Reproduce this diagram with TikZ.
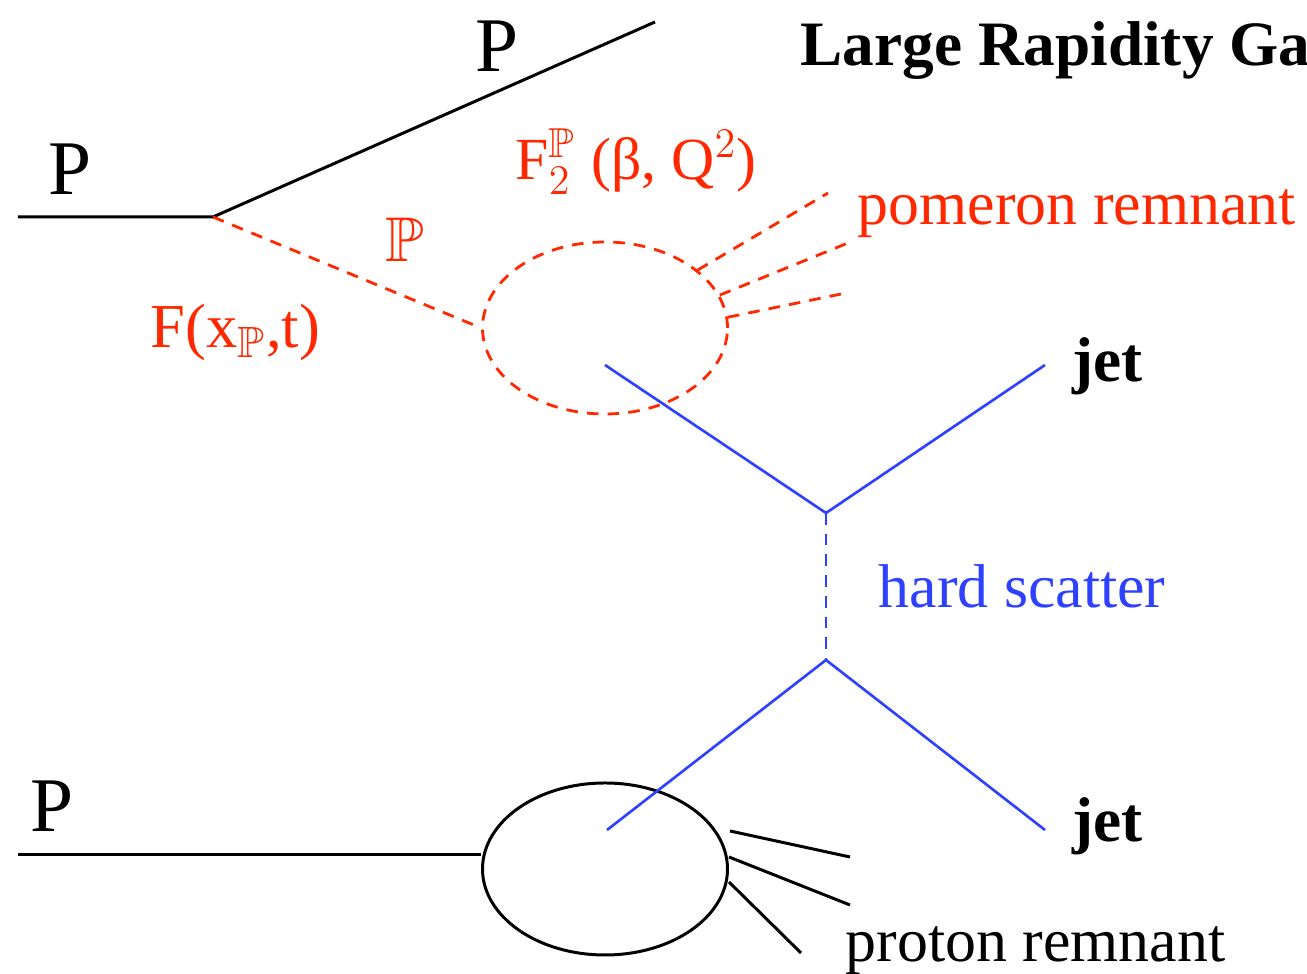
\documentclass[tikz,border=0pt]{standalone}
\usepackage{amssymb}
\usepackage{fontspec}
\setmainfont{Liberation Serif}
\usetikzlibrary{shapes.geometric}
\definecolor{pomred}{RGB}{255,40,0}
\definecolor{hardblue}{RGB}{45,65,255}
\tikzset{
  prot/.style   = {line width=0.85pt, black},
  pom/.style    = {line width=0.8pt, pomred, dash pattern=on 3.3pt off 2.6pt},
  hard/.style   = {line width=0.75pt, hardblue},
  hard dash/.style = {hard, dash pattern=on 3.3pt off 2.6pt},
  blob/.style   = {ellipse, draw, inner sep=0pt,
                   minimum width=24.5mm, minimum height=17.2mm},
  lbl/.style    = {inner sep=0pt, anchor=base west},
  plbl/.style   = {lbl, font=\fontsize{22}{26}\selectfont},
  bold lbl/.style = {lbl, font=\fontsize{18}{22}\selectfont\bfseries},
  red lbl/.style  = {lbl, text=pomred, font=\fontsize{17.6}{21}\selectfont},
  blue lbl/.style = {lbl, text=hardblue, font=\fontsize{17.6}{21}\selectfont},
}

\begin{document}
\begin{tikzpicture}[x=1cm, y=1cm]
    \useasboundingbox (0,0) rectangle (13.07,-9.74);

    % diffractive proton
    \coordinate (pin)  at (0.18,-2.17);
    \coordinate (vtx)  at (2.13,-2.17);
    \coordinate (pout) at (6.55,-0.22);
    \draw[prot] (pin) -- (vtx) -- (pout);

    % pomeron and its remnant
    \node[blob, pom] (pomblob) at (6.05,-3.28) {};
    \draw[pom] (vtx) -- (pomblob.west);
    \coordinate (pr1) at (8.28,-1.93);
    \coordinate (pr2) at (8.48,-2.43);
    \coordinate (pr3) at (8.46,-2.93);
    \draw[pom] (pomblob.32) -- (pr1);
    \draw[pom] (pomblob.16) -- (pr2);
    \draw[pom] (pomblob.5)  -- (pr3);

    % dissociating proton
    \node[blob, prot] (pblob) at (6.05,-8.69) {};
    \coordinate (pbin) at (0.18,-8.55);
    \draw[prot] (pbin) -- (pbin -| pblob.west);
    \coordinate (rs1) at (7.30,-8.31);
    \coordinate (rs2) at (7.29,-8.57);
    \coordinate (rs3) at (7.29,-8.82);
    \coordinate (re1) at (8.50,-8.57);
    \coordinate (re2) at (8.50,-9.05);
    \coordinate (re3) at (8.01,-9.53);
    \draw[prot] (rs1) -- (re1);
    \draw[prot] (rs2) -- (re2);
    \draw[prot] (rs3) -- (re3);

    % hard scatter
    \coordinate (qtop) at (6.05,-3.65);
    \coordinate (jtop) at (10.45,-3.65);
    \coordinate (vup)  at (8.26,-5.13);
    \coordinate (vdn)  at (8.26,-6.60);
    \coordinate (qbot) at (6.07,-8.30);
    \coordinate (jbot) at (10.45,-8.30);
    \draw[hard] (qtop) -- (vup) -- (jtop);
    \draw[hard dash] (vup) -- (vdn);
    \draw[hard] (qbot) -- (vdn) -- (jbot);

    % labels
    \node[bold lbl] (title) at (8.00,-0.66) {Large Rapidity Gap};
    \node[plbl] (pa) at (0.48,-1.95) {P};
    \node[plbl] (pb) at (4.75,-0.72) {P};
    \node[plbl] (pc) at (0.30,-8.32) {P};
    \node[red lbl, font=\fontsize{18}{22}\selectfont] (ip) at (3.85,-2.62) {$\mathbb{P}$};
    \node[red lbl, font=\fontsize{17}{21}\selectfont] (f2) at (5.15,-1.80) {F$_2^{\mathbb{P}}$ (β, Q$^2$)};
    \node[red lbl, font=\fontsize{17.8}{21}\selectfont] (fx) at (1.50,-3.48) {F(x$_{\mathbb{P}}$,t)};
    \node[red lbl] (pomrem) at (8.57,-2.25) {pomeron remnant};
    \node[lbl, font=\fontsize{17.6}{21}\selectfont] (prorem) at (8.45,-9.62) {proton remnant};
    \node[blue lbl] (hs) at (8.78,-6.08) {hard scatter};
    \node[bold lbl] (jeta) at (10.72,-3.82) {jet};
    \node[bold lbl] (jetb) at (10.72,-8.42) {jet};
  \end{tikzpicture}
\end{document}
